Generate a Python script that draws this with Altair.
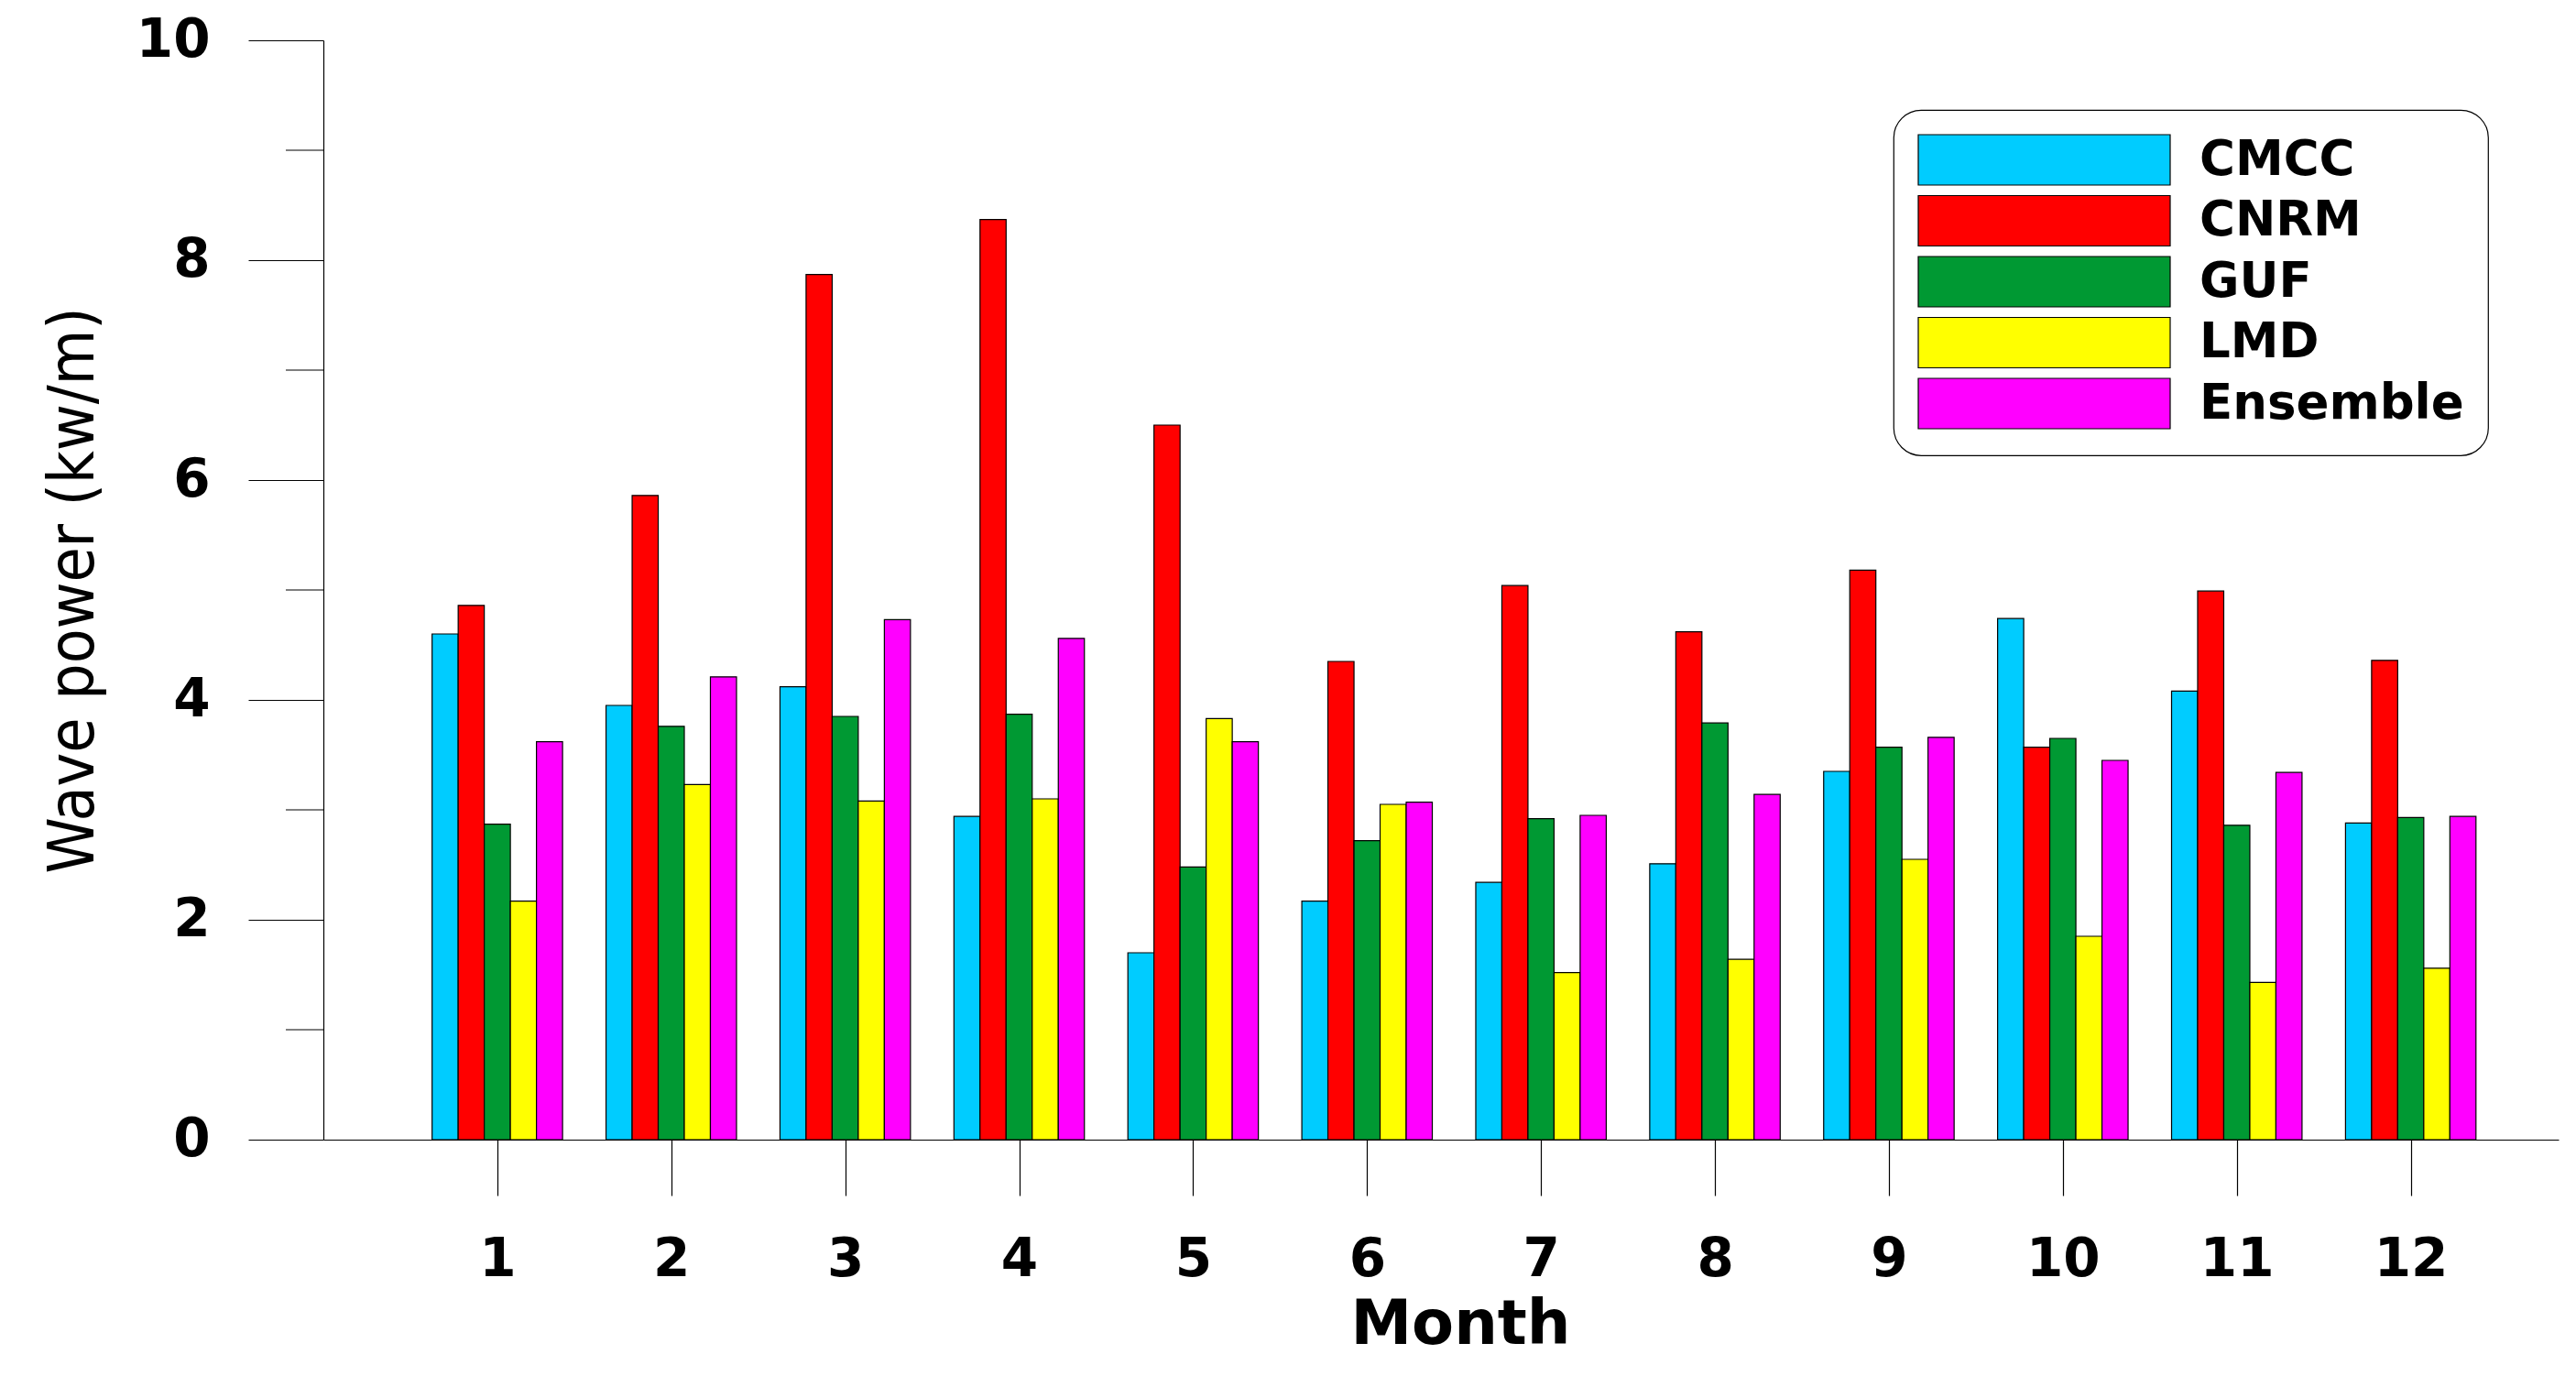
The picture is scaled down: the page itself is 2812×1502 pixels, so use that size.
import altair as alt
import pandas as pd

months = list(range(1, 13))
models = ["CMCC", "CNRM", "GUF", "LMD", "Ensemble"]
cmcc = [4.60, 3.95, 4.12, 2.94, 1.70, 2.17, 2.34, 2.51, 3.35, 4.74, 4.08, 2.88]
cnrm = [4.86, 5.86, 7.87, 8.37, 6.50, 4.35, 5.04, 4.62, 5.18, 3.57, 4.99, 4.36]
guf = [2.87, 3.76, 3.85, 3.87, 2.48, 2.72, 2.92, 3.79, 3.57, 3.65, 2.86, 2.93]
lmd = [2.17, 3.23, 3.08, 3.10, 3.83, 3.05, 1.52, 1.64, 2.55, 1.85, 1.43, 1.56]
ensemble = [3.62, 4.21, 4.73, 4.56, 3.62, 3.07, 2.95, 3.14, 3.66, 3.45, 3.34, 2.94]
colors = ["#00CCFF", "#FF0000", "#009933", "#FFFF00", "#FF00FF"]
y_major = [0, 2, 4, 6, 8, 10]
y_minor = [1, 3, 5, 7, 9]

series = [cmcc, cnrm, guf, lmd, ensemble]
rows = []
for i, (name, vals) in enumerate(zip(models, series)):
    for m, v in zip(months, vals):
        rows.append({"month": m, "model": name, "idx": i, "value": v})
df = pd.DataFrame(rows)

W = 2440
H = 1200
xscale = alt.Scale(domain=[0, 12.85], nice=False, zero=False)
yscale = alt.Scale(domain=[0, 10], nice=False)

yaxis = alt.Axis(values=y_major, title="Wave power (kw/m)", grid=False,
                 tickSize=82, tickColor="black", tickWidth=1.2,
                 domainColor="black", domainWidth=1.2,
                 labelFont="DejaVu Sans", labelFontWeight="bold",
                 labelFontSize=58, labelColor="black", labelPadding=42,
                 titleFont="DejaVu Sans Condensed, Liberation Sans Narrow, Roboto Condensed, Liberation Sans, sans-serif",
                 titleFontWeight="normal",
                 titleFontSize=69, titleColor="black", titleAngle=270,
                 titleX=-273, titleY=600, titleAlign="center",
                 titleBaseline="middle")

bars = alt.Chart(df).transform_calculate(
    x0="datum.month + (datum.idx - 2.5) * 0.15",
    x1="datum.month + (datum.idx - 1.5) * 0.15",
).mark_bar(stroke="black", strokeWidth=1.2, opacity=1).encode(
    x=alt.X("x0:Q", scale=xscale,
            axis=alt.Axis(values=months, format="d", title="Month", grid=False,
                          tickSize=61, tickColor="black", tickWidth=1.2,
                          domainColor="black", domainWidth=1.2,
                          labelFont="DejaVu Sans", labelFontWeight="bold",
                          labelFontSize=58, labelColor="black", labelPadding=41,
                          labelFlush=False, labelOverlap=False,
                          titleFont="DejaVu Sans", titleFontWeight="bold",
                          titleFontSize=67, titleColor="black",
                          titleX=1241, titleY=222, titleAlign="center",
                          titleBaseline="alphabetic")),
    x2="x1:Q",
    y=alt.Y("value:Q", scale=yscale, axis=yaxis),
    y2=alt.datum(0),
    color=alt.Color("model:N", sort=models,
                    scale=alt.Scale(domain=models, range=colors),
                    legend=alt.Legend(orient="none", legendX=1714, legendY=76, title=None,
                                      symbolType="M-1,-1H9V1H-1Z", symbolSize=3025,
                                      symbolStrokeColor="black", symbolStrokeWidth=1.2,
                                      symbolOpacity=1,
                                      labelFont="DejaVu Sans", labelFontWeight="bold",
                                      labelFontSize=53, labelColor="black",
                                      labelOffset=251, labelLimit=1000,
                                      padding=26, cornerRadius=30,
                                      strokeColor="black",
                                      fillColor="white")),
)

minor = alt.Chart(pd.DataFrame({"v": y_minor})).mark_rule(color="black", strokeWidth=1.2).encode(
    y=alt.Y("v:Q", scale=yscale, axis=yaxis),
    x=alt.value(-41),
    x2=alt.value(0),
)

chart = alt.layer(bars, minor).properties(
    width=W, height=H,
    padding={"left": 345, "top": 36, "right": 4, "bottom": 250},
    autosize=alt.AutoSizeParams(type="none"),
    background="white",
).configure_view(stroke=None).configure_legend(rowPadding=5.5, strokeWidth=1.2)

chart.save("out.html", embed_options={"renderer": "svg", "actions": False})
